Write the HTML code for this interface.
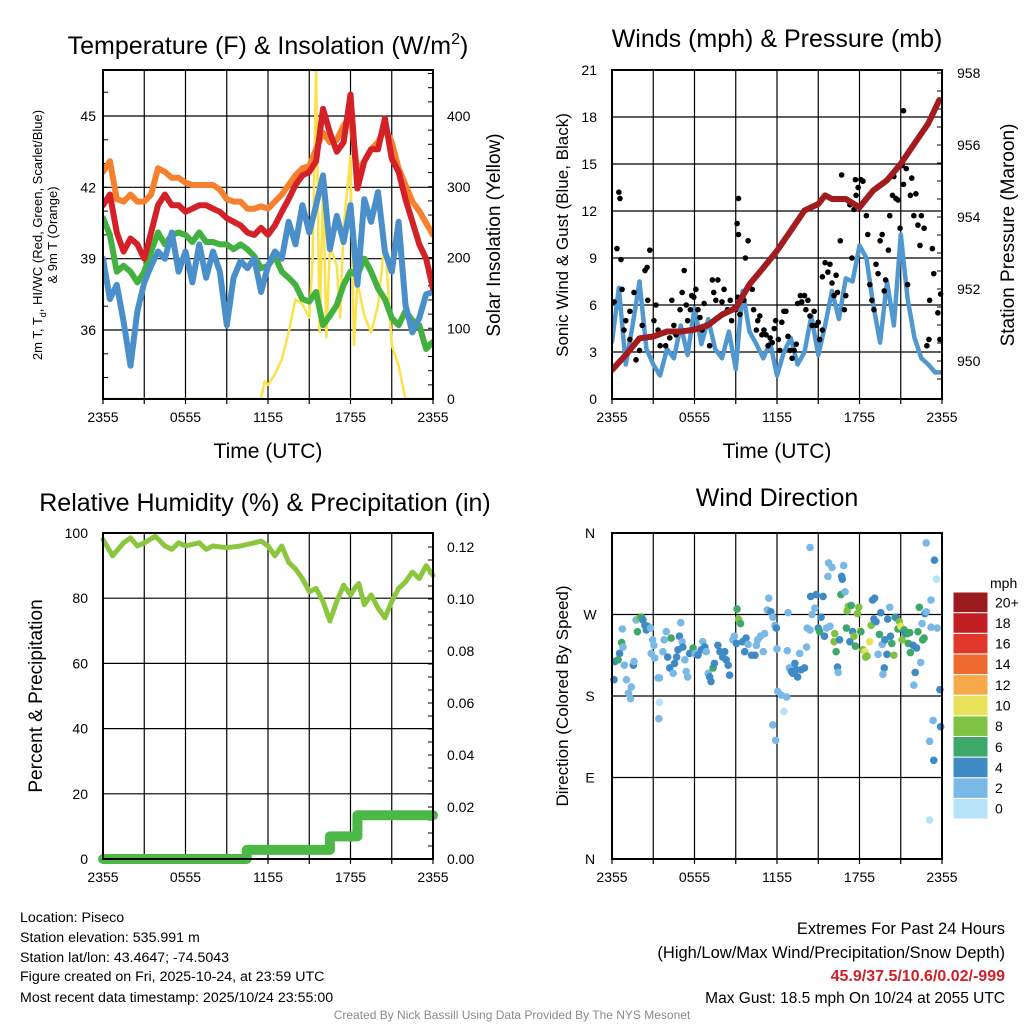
<!DOCTYPE html>
<html><head><meta charset="utf-8"><style>
html,body{margin:0;padding:0;background:#fff;}
svg{display:block;font-family:"Liberation Sans",sans-serif;}
</style></head><body>
<svg id="root" width="1024" height="1024" viewBox="0 0 1024 1024" xmlns="http://www.w3.org/2000/svg">
<defs>
<clipPath id="c1"><rect x="103" y="70" width="330" height="329"/></clipPath>
<clipPath id="c2"><rect x="612" y="70" width="330" height="329"/></clipPath>
<clipPath id="c3"><rect x="96" y="527" width="344" height="340"/></clipPath>
</defs>
<g id="g1"></g>
<g id="g2"></g>
<g id="g3"></g>
<g id="g4"></g>

<text x="268" y="54" font-size="25" text-anchor="middle">Temperature (F) &amp; Insolation (W/m<tspan dy="-10" font-size="16">2</tspan><tspan dy="10">)</tspan></text>
<text x="777" y="47" font-size="25" text-anchor="middle">Winds (mph) &amp; Pressure (mb)</text>
<text x="265" y="511" font-size="25" text-anchor="middle">Relative Humidity (%) &amp; Precipitation (in)</text>
<text x="777" y="506" font-size="25" text-anchor="middle">Wind Direction</text>

<text x="268" y="458" font-size="21" text-anchor="middle">Time (UTC)</text>
<text x="777" y="458" font-size="21" text-anchor="middle">Time (UTC)</text>

<text transform="translate(42,235) rotate(-90)" font-size="13" text-anchor="middle">2m T, T<tspan dy="4" font-size="9">d</tspan><tspan dy="-4">, HI/WC (Red, Green, Scarlet/Blue)</tspan></text>
<text transform="translate(57,235) rotate(-90)" font-size="13" text-anchor="middle">&amp; 9m T (Orange)</text>
<text transform="translate(500,235) rotate(-90)" font-size="19" text-anchor="middle">Solar Insolation (Yellow)</text>
<text transform="translate(568,235) rotate(-90)" font-size="17" text-anchor="middle">Sonic Wind &amp; Gust (Blue, Black)</text>
<text transform="translate(1014,235) rotate(-90)" font-size="19" text-anchor="middle">Station Pressure (Maroon)</text>
<text transform="translate(42,696) rotate(-90)" font-size="19" text-anchor="middle">Percent &amp; Precipitation</text>
<text transform="translate(568,696) rotate(-90)" font-size="17" text-anchor="middle">Direction (Colored By Speed)</text>

<g font-size="14.2">
<text x="20" y="922">Location: Piseco</text>
<text x="20" y="942">Station elevation: 535.991 m</text>
<text x="20" y="962">Station lat/lon: 43.4647; -74.5043</text>
<text x="20" y="981">Figure created on Fri, 2025-10-24, at 23:59 UTC</text>
<text x="20" y="1002">Most recent data timestamp: 2025/10/24 23:55:00</text>
</g>
<g font-size="18" text-anchor="end">
<text x="1005" y="934" font-size="16.5">Extremes For Past 24 Hours</text>
<text x="1005" y="958" font-size="16.5">(High/Low/Max Wind/Precipitation/Snow Depth)</text>
<text x="1005" y="981" font-size="16" fill="#d0212a" font-weight="bold">45.9/37.5/10.6/0.02/-999</text>
<text x="1005" y="1003" font-size="15.5">Max Gust: 18.5 mph On 10/24 at 2055 UTC</text>
</g>
<text x="512" y="1019" font-size="12" fill="#8a8a8a" text-anchor="middle">Created By Nick Bassill Using Data Provided By The NYS Mesonet</text>
</svg>
<script>
// ---------- DATA ----------
const halfHours = [0,0.5,1,1.5,2,2.5,3,3.5,4,4.5,5,5.5,6,6.5,7,7.5,8,8.5,9,9.5,10,10.5,11,11.5,12,12.5,13,13.5,14,14.5,15,15.5,16,16.5,17,17.5,18,18.5,19,19.5,20,20.5,21,21.5,22,22.5,23,23.5,24];
const temp9m = [42.65,43.1,41.5,41.4,41.7,41.4,41.4,41.7,42.8,42.65,42.4,42.4,42.2,42.1,42.1,42.1,42.1,41.9,41.5,41.4,41.4,41.1,41.1,41.2,41.1,41.4,41.7,42.1,42.5,42.8,42.9,43.6,44.3,43.9,44.0,44.6,45.0,42.65,43.1,43.6,43.9,44.5,43.9,42.8,42.1,41.4,41.0,40.5,40.0];
const temp2m = [41.25,41.7,40.1,39.3,39.85,39.6,39.0,40.1,41.25,41.7,41.25,41.25,40.97,41.1,41.25,41.25,41.1,40.97,40.7,40.55,40.4,40.1,40.0,40.3,40.0,40.4,40.97,41.5,42.1,42.5,42.65,43.1,45.3,44.3,43.5,43.9,45.9,41.95,43.1,43.6,43.6,44.9,43.2,42.65,41.5,40.55,39.6,39.0,37.75];
const dewpoint = [40.7,40.0,38.45,38.7,38.45,38.0,38.45,39.3,40.1,39.6,40.0,40.1,40.0,39.7,40.1,39.7,39.7,39.6,39.6,39.4,39.6,39.4,39.1,38.6,38.7,39.1,38.45,38.2,37.9,37.3,37.2,37.6,36.2,36.6,37.05,37.9,38.45,38.3,39.0,38.45,37.75,37.3,36.5,36.2,36.8,36.4,36.2,35.2,35.5];
const windChill = [39.0,37.3,37.9,36.35,34.5,36.8,38.0,38.7,39.3,39.0,40.1,38.45,39.3,38.0,39.6,38.2,39.3,38.45,36.2,38.2,38.9,38.6,39.0,37.6,38.7,39.3,39.0,40.55,39.6,41.25,40.1,41.25,42.5,39.4,40.8,39.7,41.25,37.9,41.5,40.55,41.8,39.3,38.45,40.55,37.05,35.9,36.5,37.5,37.6];
const solarHours = [0,11.5,11.75,12,12.5,13,13.5,14,14.5,15,15.25,15.5,15.75,16,16.25,16.5,17,17.25,17.5,18,18.25,18.5,19,19.5,20,20.5,21,21.5,22,24];
const solarValues = [0,0,25,20,35,56,94,141,134,115,200,470,94,306,87,216,188,115,244,343,76,165,118,94,132,226,76,47,0,0];
const windSpeed = [3.66,7.1,2.2,4.7,7.5,3.2,2.2,1.5,3.2,2.6,4.7,2.8,5.8,3.5,5.1,3.2,2.6,4.3,1.9,6.9,4.3,3.5,2.6,3.6,1.5,3.0,3.9,2.2,3.0,5.3,2.8,4.7,6.9,5.1,7.7,7.5,9.8,9.0,6.0,3.6,7.5,4.7,10.5,6.4,3.9,2.6,2.2,1.7,1.7];
const pressHours = [0,1,2,3,4,5,6,7,8,9,10,11,12,13,14,15,15.5,16,17,18,19,20,21,22,23,23.8];
const pressValues = [949.75,950.17,950.63,950.68,950.82,950.82,950.87,951.0,951.29,951.47,952.13,952.59,953.06,953.62,954.18,954.36,954.6,954.5,954.5,954.27,954.74,955.02,955.48,956.04,956.6,957.25];
const gustHours = [0.15,0.36,0.5,0.58,0.65,0.73,0.87,1.0,1.3,1.6,1.3,1.75,2.0,2.2,2.4,2.55,2.6,2.75,3.05,3.2,3.35,3.5,3.9,4.2,4.35,4.5,4.65,4.95,5.1,5.25,5.4,5.5,5.7,5.8,5.95,6.1,6.25,6.4,6.55,6.7,6.85,7.1,7.3,7.4,7.55,7.7,8.0,8.15,8.4,8.6,8.7,8.9,9.0,9.15,9.3,9.6,9.7,9.9,9.2,9.1,9.2,10.2,10.3,10.5,10.6,10.75,10.9,11.05,11.2,11.35,11.5,11.65,11.8,11.9,12.1,12.2,12.35,12.5,12.65,12.8,12.95,13.1,13.25,13.4,13.5,13.7,13.8,14.0,14.1,14.25,14.4,14.55,14.7,14.85,15.0,15.1,15.3,15.3,15.5,15.7,15.85,16.0,16.15,16.3,16.4,16.6,16.7,16.9,17.0,17.3,17.45,17.6,17.75,17.9,17.7,18.1,18.25,18.5,18.6,18.75,18.9,19.05,19.2,19.35,19.5,19.65,19.8,19.9,20.1,20.2,20.4,20.5,20.65,20.8,20.95,21.1,21.2,21.4,21.2,21.5,21.7,21.8,21.95,22.1,22.25,22.4,22.5,22.7,22.9,23.05,23.1,23.3,23.4,23.7,23.85,23.9];
const gustValues = [6.2,9.6,13.2,12.8,8.9,7.0,4.4,5.0,3.8,6.8,5.6,2.5,3.1,4.7,8.2,8.4,6.3,9.5,5.0,6.0,4.4,3.4,3.4,3.9,6.3,4.7,4.1,5.7,6.8,8.2,6.0,5.0,5.7,6.6,6.5,7.0,5.7,5.2,4.4,6.1,4.7,3.4,7.6,6.8,6.3,7.6,6.2,7.0,5.7,6.3,5.0,5.8,5.7,6.5,5.4,6.3,9.0,10.1,12.8,11.2,10.5,7.0,5.7,4.4,5.0,5.3,4.1,4.4,4.1,3.4,3.9,3.6,4.5,5.0,3.8,3.1,4.9,5.6,5.6,4.0,3.1,2.6,3.1,3.5,6.1,6.6,6.2,6.6,5.7,6.3,5.3,4.7,5.6,4.7,4.9,3.8,4.4,7.8,8.7,8.1,8.6,7.4,6.6,7.9,6.8,10.1,14.3,5.7,6.6,12.4,9.0,12.1,13.0,13.5,14.0,14.0,13.9,11.7,10.5,7.3,6.3,5.7,8.6,8.0,10.1,10.5,6.9,7.6,9.5,11.7,13.0,14.2,12.8,12.7,10.9,14.9,13.7,14.7,18.4,7.3,13.0,14.1,11.7,13.1,11.1,9.8,11.7,10.9,3.4,3.8,6.3,9.6,8.0,5.5,3.8,6.7];
const rhHours = [0,0.7,1.5,2,2.5,3,3.8,4.5,5,5.5,6,7,7.5,8,9,10,11,11.5,12,12.5,13,13.5,14,14.5,15,15.5,16,16.5,17,17.5,18,18.3,18.6,19,19.5,20,20.5,21,21.5,22,22.5,23,23.5,24];
const rhValues = [98,93,97,98.5,96,97,99,96,95,97,96,97,95,96,95.5,96,97,97.5,96,93,96,91,89,86,82,83,79,73,79,84,81,83,84.5,78,81,77,74,79,83,85,88,86,90,87];
const precipHours = [0,10.45,16.5,18.5,24];
const precipValues = [0,0.0035,0.0087,0.0168];
const dirHours = [0.15,0.2,0.45,0.55,0.7,0.75,0.8,0.9,1.05,1.2,1.35,1.4,1.55,1.6,1.75,1.85,2.0,2.15,2.25,2.4,2.5,2.6,2.8,2.95,3.05,2.85,3.1,3.35,3.45,3.45,3.4,3.7,3.8,3.95,4.05,4.2,4.3,4.45,4.55,4.7,4.8,4.9,5.0,5.1,5.15,5.3,5.4,5.5,5.65,5.9,6.05,6.25,6.5,6.6,6.75,6.85,7.0,7.1,7.2,7.35,7.45,7.7,7.85,8.05,8.2,8.3,8.45,8.55,8.8,8.9,9.05,9.1,9.2,9.35,9.5,9.65,9.75,9.9,10.15,10.4,10.5,10.6,10.8,11.0,11.1,11.3,11.4,11.55,11.7,11.85,11.95,12.0,12.05,12.3,12.5,12.7,12.8,12.75,12.9,13.05,13.15,13.3,13.4,13.5,13.65,13.75,14.0,14.15,14.2,14.4,14.45,14.55,14.75,14.85,14.4,15.0,15.1,15.2,15.35,15.45,15.6,15.7,15.75,15.85,16.0,16.2,16.15,16.3,16.4,16.45,16.55,16.7,16.75,16.65,16.85,16.95,17.05,17.1,17.2,17.3,17.4,17.5,17.6,17.7,17.85,17.95,18.05,18.1,18.25,18.4,18.45,18.55,18.75,18.85,18.95,19.1,19.05,19.2,19.35,19.45,19.55,19.65,19.8,19.7,19.85,20.0,20.05,20.2,20.25,20.35,20.5,20.6,20.7,20.8,20.9,21.0,21.1,21.25,21.35,21.5,21.55,21.65,21.7,21.9,21.95,22.05,22.15,22.25,22.35,22.45,22.55,22.6,22.75,22.85,22.7,22.85,23.2,23.2,23.45,23.6,23.65,23.85,23.35,23.1,23.4,23.9,23.1,11.7,11.9];
const dirDegrees = [198,218,220,227,239,254,234,214,198,183,177,190,214,218,264,251,266,267,264,258,253,257,255,242,236,227,222,200,200,173,155,229,242,251,223,211,244,205,216,223,231,246,261,240,234,220,207,201,227,233,227,225,231,240,234,229,205,201,196,211,216,236,229,223,229,220,214,203,242,246,238,276,265,260,240,229,244,237,225,225,236,242,246,229,249,275,288,273,267,258,255,232,185,181,163,179,272,230,211,207,205,216,209,201,227,209,211,234,255,253,290,270,277,292,344,255,251,267,290,246,255,312,327,257,322,249,240,229,212,206,242,312,309,292,324,295,255,274,279,240,280,251,246,235,271,278,252,251,231,229,223,224,240,258,286,288,265,262,226,248,272,237,211,204,242,226,265,278,246,238,225,267,266,254,262,257,242,253,249,249,238,250,228,236,192,206,233,251,278,217,260,242,271,273,244,349,256,286,330,309,255,187,153,130,109,146,43,148,131];
const dirSpeeds = [5,5,7,5,7,3,3,3,3,3,3,3,5,3,3,7,9,7,5,5,5,5,3,3,3,3,3,3,3,1,3,3,3,3,5,5,7,3,5,5,5,5,3,3,5,3,3,3,5,7,3,5,5,3,5,3,3,5,5,7,5,5,5,5,5,5,5,5,3,3,5,7,9,7,5,5,5,3,5,5,3,3,3,3,3,3,3,5,3,3,5,3,3,3,1,3,3,3,3,5,5,5,5,5,3,5,5,3,3,3,5,3,3,5,3,5,7,5,5,5,3,3,3,3,3,9,9,7,5,3,5,5,5,7,3,3,7,9,9,5,7,5,9,7,9,9,11,7,9,11,9,9,11,9,5,5,5,5,3,7,5,3,5,3,5,5,5,3,5,7,9,7,5,7,9,11,9,7,5,7,7,7,7,5,3,5,5,7,7,3,3,7,5,3,7,3,3,3,5,1,3,5,3,3,5,5,1,3,3];
const xTickLabels = ['2355','0555','1155','1755','2355'];
const tempTicks = [36,39,42,45];
const solarTicks = [0,100,200,300,400];
const windTicks = [0,3,6,9,12,15,18,21];
const pressTicks = [950,952,954,956,958];
const rhTicks = [0,20,40,60,80,100];
const precipTicks = ['0.00','0.02','0.04','0.06','0.08','0.10','0.12'];
const dirTicks = [0,90,180,270,360];
const dirLabels = ['N','E','S','W','N'];
const barLabels = ['0','2','4','6','8','10','12','14','16','18','20+'];
const barColors = ['#b6e3f8','#7ab9e5','#3f8ac5','#3ea86a','#7fc241','#e8e15a','#f6a94a','#ef6a2e','#e0382b','#c41e25','#9b1b1f'];

// ---------- HELPERS ----------
const NS='http://www.w3.org/2000/svg';
function mk(tag, parent){const e=document.createElementNS(NS,tag);parent.appendChild(e);return e;}
function at(e,o){for(const k in o)e.setAttribute(k,o[k]);return e;}
const g1=document.getElementById('g1'),g2=document.getElementById('g2'),g3=document.getElementById('g3'),g4=document.getElementById('g4');
const xL=h=>103+h*330/24, xR=h=>612+h*330/24;
const yT=t=>116+(45-t)*(214/9);
const yS=w=>399-w*0.7075;
const yW=v=>399-v*329/21;
const yP=p=>361-(p-950)*36;
const yRH=r=>859-r*3.26;
const yPr=p=>859-p*2600;
const yD=d=>859-d*326/360;

function frame(g,x0,y0,w,h,vLines,hLines,name){
  for(const x of vLines){const l=mk('line',g);at(l,{x1:x,x2:x,y1:y0,y2:y0+h,stroke:'#000','stroke-width':1.2});
    
    
    const t=mk('line',g);at(t,{x1:x,x2:x,y1:y0+h,y2:y0+h+5,stroke:'#000','stroke-width':1.2});
    
    }
  for(const y of hLines){const l=mk('line',g);at(l,{x1:x0,x2:x0+w,y1:y,y2:y,stroke:'#000','stroke-width':1.2});
    
    }
}
function border(g,x0,y0,w,h,name){const r=mk('rect',g);at(r,{x:x0,y:y0,width:w,height:h,fill:'none',stroke:'#000','stroke-width':2});
  
  }
function txt(g,x,y,s,anchor,size,name){const t=mk('text',g);at(t,{x:x,y:y,'text-anchor':anchor,'font-size':size});t.textContent=s;
  
  return t;}
function poly(g,xs,ys,stroke,w,name,clip){const p=mk('polyline',g);
  at(p,{points:xs.map((x,i)=>x.toFixed(1)+','+ys[i].toFixed(1)).join(' '),fill:'none',stroke:stroke,'stroke-width':w,'stroke-linejoin':'round','stroke-linecap':'round'});
  if(clip)p.setAttribute('clip-path','url(#'+clip+')');
  
  return p;}
function minorTick(g,x,y,len,name){const l=mk('line',g);at(l,{x1:x,x2:x+len,y1:y,y2:y,stroke:'#000','stroke-width':1});
  
  }
const gridH=[0,3,6,9,12,15,18,21,24];

// ---------- PANEL 1 ----------
frame(g1,103,70,330,329,gridH.map(xL),tempTicks.map(yT),'temp');
for(let t=34;t<=46;t++)minorTick(g1,103,yT(t),5,'temp-minor-tick');
for(let w=0;w<=460;w+=20)minorTick(g1,433,yS(w),-5,'solar-minor-tick');
poly(g1,solarHours.map(xL),solarValues.map(yS),'#fbe14a',2.5,'solar-line','c1');
poly(g1,halfHours.map(xL),temp9m.map(yT),'#f5812f',6,'temp-9m-line','c1');
poly(g1,halfHours.map(xL),dewpoint.map(yT),'#43b13f',6,'dewpoint-line','c1');
poly(g1,halfHours.map(xL),windChill.map(yT),'#4a8fc9',6,'windchill-line','c1');
poly(g1,halfHours.map(xL),temp2m.map(yT),'#d42027',6,'temp-2m-line','c1');
border(g1,103,70,330,329,'temp');
tempTicks.forEach(t=>txt(g1,96,yT(t)+5,String(t),'end',14,'temp-tick-label'));
solarTicks.forEach(w=>txt(g1,447,yS(w)+5,String(w),'start',14,'solar-tick-label'));
xTickLabels.forEach((s,i)=>txt(g1,xL(i*6),422,s,'middle',14,'temp-x-tick-label'));

// ---------- PANEL 2 ----------
frame(g2,612,70,330,329,gridH.map(xR),windTicks.slice(1,-1).map(yW),'wind');
for(let p=949.5;p<=958;p+=0.5)minorTick(g2,942,yP(p),-5,'pressure-minor-tick');
poly(g2,halfHours.map(xR),windSpeed.map(yW),'#5298d0',4.5,'wind-speed-line','c2');
gustHours.forEach((h,i)=>{const c=mk('circle',g2);at(c,{cx:xR(h),cy:yW(gustValues[i]),r:2.8,fill:'#000'});
  
  });
poly(g2,pressHours.map(xR),pressValues.map(yP),'#a11b1f',6,'pressure-line','c2');
border(g2,612,70,330,329,'wind');
windTicks.forEach(v=>txt(g2,597,yW(v)+5,String(v),'end',14,'wind-tick-label'));
pressTicks.forEach(p=>txt(g2,957,yP(p)+5,String(p),'start',14,'pressure-tick-label'));
xTickLabels.forEach((s,i)=>txt(g2,xR(i*6),422,s,'middle',14,'wind-x-tick-label'));

// ---------- PANEL 3 ----------
frame(g3,103,533,330,326,gridH.map(xL),[20,40,60,80].map(yRH),'rh');
for(let p=0;p<=0.125;p+=0.005)minorTick(g3,433,yPr(p),-5,'precip-minor-tick');
poly(g3,rhHours.map(xL),rhValues.map(yRH),'#8cc63f',5,'rh-line');
const px=[],py=[];
precipValues.forEach((v,i)=>{px.push(xL(precipHours[i]));py.push(yPr(v));px.push(xL(precipHours[i+1]));py.push(yPr(v));});
poly(g3,px,py,'#4cb848',10,'precip-line','c3');
border(g3,103,533,330,326,'rh');
rhTicks.forEach(r=>txt(g3,88,yRH(r)+5,String(r),'end',14,'rh-tick-label'));
precipTicks.forEach(s=>txt(g3,447,yPr(parseFloat(s))+5,s,'start',14,'precip-tick-label'));
xTickLabels.forEach((s,i)=>txt(g3,xL(i*6),882,s,'middle',14,'rh-x-tick-label'));

// ---------- PANEL 4 ----------
frame(g4,612,533,330,326,gridH.map(xR),[90,180,270].map(yD),'dir');
const spdColor=s=>barColors[Math.min(10,Math.floor(s/2))];
dirHours.forEach((h,i)=>{const c=mk('circle',g4);at(c,{cx:xR(h),cy:yD(dirDegrees[i]),r:3.8,fill:spdColor(dirSpeeds[i])});
  
  });
border(g4,612,533,330,326,'dir');
dirTicks.forEach((d,i)=>txt(g4,590,yD(d)+5,dirLabels[i],'middle',14,'dir-tick-label'));
xTickLabels.forEach((s,i)=>txt(g4,xR(i*6),882,s,'middle',14,'dir-x-tick-label'));
const cb=mk('g',g4);


const bh=227/11;
barColors.forEach((col,i)=>{const r=mk('rect',cb);at(r,{x:953,y:819-(i+1)*bh,width:35,height:bh,fill:col,stroke:'#fff','stroke-width':1});
  
  
  txt(cb,995,819-(i+0.5)*bh+5,barLabels[i],'start',14,'colorbar-label');});
txt(cb,990,588,'mph','start',14,'colorbar-unit');
</script>
</body></html>
